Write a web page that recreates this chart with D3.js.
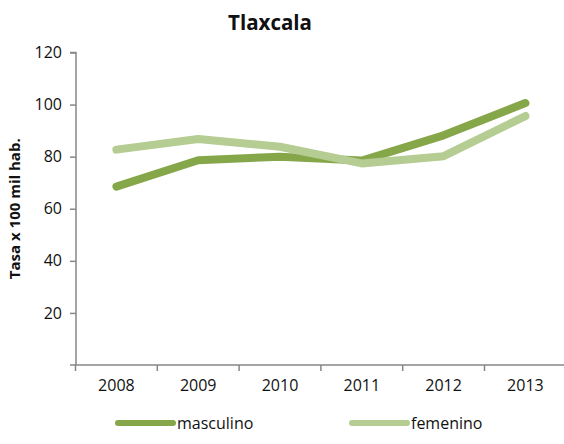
<!DOCTYPE html>
<html>
<head>
<meta charset="utf-8">
<script src="https://cdn.jsdelivr.net/npm/d3@7"></script>
<style>
  body { margin: 0; background: #fff; }
  text { font-family: 'Open Sans', sans-serif; fill: #111; }
</style>
</head>
<body>
<div id="chart"></div>
<script>
const years = ['2008', '2009', '2010', '2011', '2012', '2013']
const masculino = [68.5, 78.6, 80, 78.5, 88.2, 100.6]
const femenino = [82.7, 86.8, 83.8, 77.4, 80.2, 95.6]
const yTicks = [20, 40, 60, 80, 100, 120]

const series = [
  { name: 'masculino', values: masculino, color: '#86a64a' },
  { name: 'femenino', values: femenino, color: '#b5cc93' },
]

const W = 564
const H = 444
const plotLeft = 76
const plotTop = 52.5
const plotBottom = 365

const svg = d3.select('#chart').append('svg').attr('width', W).attr('height', H)

const x = d3.scaleBand().domain(years).range([plotLeft - 0.5, plotLeft - 0.5 + 6 * 81.8])
const y = d3.scaleLinear().domain([0, 120]).range([plotBottom, plotTop])

svg
  .append('text')
  .attr('x', 270)
  .attr('y', 30)
  .attr('text-anchor', 'middle')
  .attr('font-weight', 'bold')
  .attr('font-size', 20.5)
  .text('Tlaxcala')

// y axis
const yAxis = svg
  .append('g')
  .attr('transform', `translate(${plotLeft},0)`)
  .call(d3.axisLeft(y).tickValues(yTicks).tickSize(6).tickPadding(8))
yAxis.select('.domain').attr('stroke', '#878787').attr('stroke-width', 1.5).attr('d', `M-6,${y(120)}H0V${plotBottom}`)
yAxis.selectAll('.tick line').attr('stroke', '#878787').attr('stroke-width', 1.5)
yAxis.selectAll('.tick text').attr('font-size', 16).attr('font-family', "'Open Sans', sans-serif").attr('fill', '#111')

// x axis
const xAxis = svg
  .append('g')
  .attr('transform', `translate(0,${plotBottom})`)
  .call(d3.axisBottom(x).tickSize(0).tickPadding(15))
xAxis.select('.domain').attr('stroke', '#878787').attr('stroke-width', 1.5).attr('d', `M${plotLeft - 6},0H${W}`)
xAxis.selectAll('.tick text').attr('font-size', 16).attr('font-family', "'Open Sans', sans-serif").attr('fill', '#111')

svg
  .append('g')
  .selectAll('line')
  .data(years)
  .join('line')
  .attr('x1', (d) => x(d))
  .attr('x2', (d) => x(d))
  .attr('y1', plotBottom)
  .attr('y2', plotBottom + 6)
  .attr('stroke', '#878787')
  .attr('stroke-width', 1.5)

svg
  .append('text')
  .attr('transform', `translate(20,${(plotTop + plotBottom) / 2}) rotate(-90)`)
  .attr('text-anchor', 'middle')
  .attr('font-weight', 'bold')
  .attr('font-size', 15)
  .text('Tasa x 100 mil hab.')

const line = d3
  .line()
  .x((d, i) => x(years[i]) + x.bandwidth() / 2)
  .y((d) => y(d))

series.forEach((s) => {
  svg
    .append('path')
    .datum(s.values)
    .attr('d', line)
    .attr('fill', 'none')
    .attr('stroke', s.color)
    .attr('stroke-width', 8)
    .attr('stroke-linecap', 'round')
    .attr('stroke-linejoin', 'round')
})

// legend
const legendX = [118, 352]
series.forEach((s, i) => {
  const g = svg.append('g').attr('transform', `translate(${legendX[i]},423)`)
  g.append('line')
    .attr('x1', 0)
    .attr('x2', 55)
    .attr('stroke', s.color)
    .attr('stroke-width', 6)
    .attr('stroke-linecap', 'round')
  g.append('text').attr('x', 59).attr('y', 6).attr('font-size', 16).text(s.name)
})
</script>
</body>
</html>
